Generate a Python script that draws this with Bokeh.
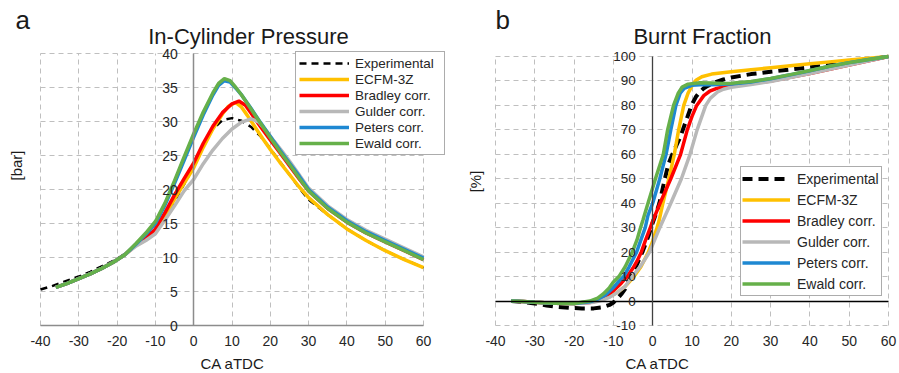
import math
from bokeh.plotting import figure
from bokeh.layouts import row
from bokeh.models import FixedTicker, Label, Legend, LegendItem, LinearAxis, Range1d
from bokeh.embed import file_html
from bokeh.resources import INLINE

FONT = "Liberation Sans"
TXT = "#262626"
GRID = "#BFBFBF"
H = 373

# ---------------- tick labels ----------------
ca_ticks = [-40, -30, -20, -10, 0, 10, 20, 30, 40, 50, 60]
ca_tick_labels = ["-40", "-30", "-20", "-10", "0", "10", "20", "30", "40", "50", "60"]
p_ticks = [0, 5, 10, 15, 20, 25, 30, 35, 40]
p_tick_labels = ["0", "5", "10", "15", "20", "25", "30", "35", "40"]
bf_ticks = [-10, 0, 10, 20, 30, 40, 50, 60, 70, 80, 90, 100]
bf_tick_labels = ["-10", "0", "10", "20", "30", "40", "50", "60", "70", "80", "90", "100"]

series_names = ["Experimental", "ECFM-3Z", "Bradley corr.", "Gulder corr.", "Peters corr.", "Ewald corr."]
series_colors = ["#000000", "#FFC000", "#FF0000", "#B8B8B8", "#1E88D2", "#66B04A"]

# ---------------- (a) in-cylinder pressure [bar] ----------------
p_exp_ca = [-40, -37, -34, -30, -27, -24, -21, -18, -15, -12.5, -10, -7.5, -5, -2.5, 0, 2.5, 5, 7.5, 10,
            12.5, 15, 17.5, 20, 22.5, 25, 27.5, 30, 35, 40, 45, 50, 55, 60]
p_exp = [5.3, 5.8, 6.4, 7.2, 7.9, 8.7, 9.5, 10.5, 11.7, 12.9, 14.3, 16.1, 18.3, 20.8, 23.4, 26.6, 28.9, 30.2, 30.5,
         30.1, 29.2, 27.8, 26.0, 24.1, 22.2, 20.3, 18.5, 16.3, 14.2, 12.5, 11.0, 9.7, 8.5]

p_sim_ca_start = [-36, -33, -30, -27, -24, -21, -18]
p_sim_start = [5.6, 6.2, 6.9, 7.6, 8.4, 9.3, 10.4]

p_ecfm_ca = p_sim_ca_start + [-15, -12.5, -10, -7.5, -5, -2.5, 0, 2.5, 5, 7.5, 9, 10.9, 12.5, 14, 16, 18, 20,
                              22.5, 25, 27.5, 30, 35, 40, 45, 50, 55, 60]
p_ecfm = p_sim_start + [11.8, 12.6, 13.8, 16.1, 18.6, 20.9, 23.2, 26.2, 28.9, 31.1, 32.2, 32.8, 32.1, 30.9, 29.2,
                        27.5, 25.9, 24.0, 22.2, 20.4, 18.8, 16.3, 14.2, 12.5, 11.0, 9.7, 8.5]

p_bradley_ca = p_sim_ca_start + [-15, -12.5, -10, -7.5, -5, -2.5, 0, 2.5, 5, 7.5, 10, 11.8, 13.5, 15, 17.5, 20,
                                 22.5, 25, 27.5, 30, 35, 40, 45, 50, 55, 60]
p_bradley = p_sim_start + [11.9, 12.8, 14.2, 16.6, 19.2, 21.6, 23.9, 26.8, 29.3, 31.3, 32.6, 33.0, 32.4, 31.2,
                           29.2, 27.3, 25.4, 23.5, 21.6, 19.8, 17.2, 15.2, 13.6, 12.3, 11.0, 9.7]

p_gulder_ca = p_sim_ca_start + [-15, -12.5, -10, -7.5, -5, -2.5, 0, 2.5, 5, 7.5, 10, 12.5, 15, 17, 19, 21, 23,
                                25, 27.5, 30, 35, 40, 45, 50, 55, 60]
p_gulder = p_sim_start + [11.7, 12.5, 13.5, 15.5, 17.6, 19.8, 21.5, 23.8, 25.8, 27.5, 28.9, 29.9, 30.4, 29.9,
                          28.6, 27.1, 25.7, 24.2, 22.2, 20.2, 17.6, 15.6, 14.0, 12.7, 11.4, 10.1]

p_peters_ca = p_sim_ca_start + [-15, -12.5, -10, -7.5, -5, -2.5, 0, 2.5, 5, 6.5, 8, 9.5, 11, 12.5, 15, 17.5, 20,
                                22.5, 25, 27.5, 30, 35, 40, 45, 50, 55, 60]
p_peters = p_sim_start + [12.0, 13.4, 15.0, 17.7, 20.9, 24.3, 27.7, 31.0, 33.9, 35.3, 36.0, 35.8, 34.9, 33.9,
                          31.9, 29.8, 27.8, 25.8, 23.9, 22.0, 20.0, 17.4, 15.4, 13.8, 12.5, 11.2, 9.9]

p_ewald_ca = p_peters_ca
p_ewald = p_sim_start + [12.1, 13.6, 15.3, 18.0, 21.3, 24.8, 28.2, 31.4, 34.2, 35.6, 36.3, 36.0, 35.0, 33.9,
                         31.8, 29.7, 27.6, 25.6, 23.7, 21.7, 19.8, 17.2, 15.2, 13.6, 12.3, 11.0, 9.7]

# ---------------- (b) burnt fraction [%] ----------------
b_exp_ca = [-36, -33, -30, -27, -24, -21, -18, -15, -13, -11, -10, -9, -8, -7, -5.6, -4, -2.5, -1, 0, 1, 1.7,
            3.1, 4, 5, 6, 7, 8, 9, 10, 11, 12, 13, 14, 15.5, 18, 20, 25, 30, 35, 40, 45, 50, 55, 60]
b_exp = [0, -0.4, -1.0, -1.8, -2.4, -2.8, -3.0, -3.0, -2.6, -1.6, -0.6, 1.0, 2.8, 5.0, 10.0, 15.0, 20.5, 27.0,
         32.0, 36.5, 40.0, 50.0, 56.0, 60.0, 63.5, 67.0, 71.5, 76.0, 80.5, 83.5, 85.5, 87.0, 88.0, 89.2, 90.6,
         91.4, 92.8, 93.8, 94.7, 95.6, 96.5, 97.5, 98.7, 100]

b_sim_ca_start = [-36, -33, -30, -25, -20]
b_sim_start = [0, -0.2, -0.5, -0.9, -1.0]

b_ecfm_ca = b_sim_ca_start + [-17, -15, -13, -11, -9, -7, -5, -3, -1.1, 0, 1, 1.6, 2.6, 4.1, 5.5, 6.6, 7.9, 9, 10,
                              11, 12.5, 15, 20, 25, 30, 35, 40, 45, 50, 55, 60]
b_ecfm = b_sim_start + [-0.5, 0, 0.6, 1.8, 3.5, 6.0, 9.5, 14.0, 20.0, 24.5, 29.5, 32.7, 40.0, 50.0, 60.0, 70.0,
                        80.0, 85.0, 88.0, 90.3, 91.7, 92.8, 93.8, 94.6, 95.4, 96.2, 97.0, 97.8, 98.6, 99.3, 100]

b_bradley_ca = b_sim_ca_start + [-16, -14, -12, -10, -8, -6.5, -5, -4, -2.9, -1.8, -0.6, 0, 2, 4.6, 7.1, 8.8,
                                 10, 11.2, 13, 14.5, 16, 18, 20, 25, 30, 35, 40, 45, 50, 55, 60]
b_bradley = b_sim_start + [-0.6, 0.3, 2.0, 4.2, 7.3, 10.0, 13.5, 16.3, 20.0, 25.0, 30.0, 32.7, 40.5, 50.0,
                           60.0, 70.0, 75.5, 80.0, 84.0, 85.8, 86.8, 87.6, 88.1, 88.9, 90.0, 91.5, 93.0, 94.8,
                           96.5, 98.2, 100]

b_gulder_ca = b_sim_ca_start + [-17, -15, -13, -11, -9, -7, -5.2, -3, -0.8, 1.8, 4.6, 7.3, 9.5, 11.3, 13.5,
                                14.7, 16.5, 18, 20, 25, 30, 35, 40, 45, 50, 55, 60]
b_gulder = b_sim_start + [-0.8, -0.5, 0.3, 1.5, 3.5, 6.0, 10.0, 14.5, 20.0, 30.0, 40.0, 50.0, 60.0, 70.0, 80.0,
                          83.0, 85.5, 86.6, 87.4, 88.5, 89.8, 91.4, 93.0, 94.8, 96.5, 98.2, 100]

b_peters_ca = b_sim_ca_start + [-16, -14, -12, -10, -8.5, -7.4, -6, -4.1, -3, -1.9, -1.2, 0, 1.8, 3.4, 4.6,
                                5.9, 7, 8, 10, 12, 15, 20, 25, 30, 35, 40, 45, 50, 55, 60]
b_peters = b_sim_start + [-0.3, 0.8, 2.5, 5.5, 8.3, 10.0, 14.0, 20.0, 25.0, 30.0, 35.0, 40.0, 50.0, 60.0, 70.0,
                          80.0, 85.0, 87.0, 88.2, 88.4, 88.4, 88.8, 89.6, 90.9, 92.5, 94.2, 96.0, 97.5, 98.8, 100]

b_ewald_ca = b_sim_ca_start + [-16, -14, -12.5, -11, -10, -8.6, -7, -5.2, -4, -3.1, -2.5, -1.2, 0.7, 2.7, 3.8,
                               5.3, 6.5, 7.5, 9, 12, 15, 18, 20, 25, 30, 35, 40, 45, 50, 55, 60]
b_ewald = b_sim_start + [0, 1.2, 3.0, 5.5, 7.8, 10.0, 14.0, 20.0, 25.0, 30.0, 33.0, 40.0, 50.0, 60.0, 70.0,
                         80.0, 85.0, 87.5, 88.7, 89.3, 89.2, 89.0, 89.1, 89.8, 91.0, 92.6, 94.3, 96.0, 97.5,
                         98.8, 100]


def full_frame_figure(width, x_lo, x_hi, px_left, px_right, y_lo, y_hi, px_top, px_bottom):
    """Frame covers the whole figure; data box [x_lo,x_hi]x[y_lo,y_hi] is placed at the given pixels."""
    sx = (px_right - px_left) / (x_hi - x_lo)
    sy = (px_bottom - px_top) / (y_hi - y_lo)
    xr = Range1d(x_lo - px_left / sx, x_hi + (width - px_right) / sx)
    yr = Range1d(y_lo - (H - px_bottom) / sy, y_hi + px_top / sy)
    p = figure(width=width, height=H, x_range=xr, y_range=yr,
               output_backend="svg", toolbar_location=None,
               min_border_left=0, min_border_right=0, min_border_top=0, min_border_bottom=0)
    p.background_fill_color = "white"
    p.border_fill_color = "white"
    p.outline_line_color = None
    for g in (p.xgrid, p.ygrid):
        g.grid_line_color = GRID
        g.grid_line_dash = "5 4"
        g.grid_line_width = 1
    p.xgrid.bounds = (x_lo, x_hi)
    p.ygrid.bounds = (y_lo, y_hi)
    try:
        p.xgrid.cross_bounds = (y_lo, y_hi)
        p.ygrid.cross_bounds = (x_lo, x_hi)
    except AttributeError:
        pass
    p.xaxis.ticker = FixedTicker(ticks=ca_ticks)
    p.xaxis.major_label_overrides = dict(zip(ca_ticks, ca_tick_labels))
    p.xaxis.bounds = (x_lo, x_hi)
    p.yaxis.bounds = (y_lo, y_hi)
    for ax in (p.xaxis, p.yaxis):
        ax.major_tick_line_color = None
        ax.minor_tick_line_color = None
        ax.major_label_text_font = FONT
        ax.major_label_text_color = TXT
    p.xaxis.major_label_text_font_size = "14px"
    p.xaxis.major_label_standoff = 4
    p.yaxis.fixed_location = 0
    return p


def add_text(p, x, y, dx, dy, text, size, align="left", angle=0.0):
    p.add_layout(Label(x=x, y=y, x_offset=dx, y_offset=dy, text=text, text_font=FONT,
                       text_font_size=size, text_color="#1a1a1a", text_align=align,
                       text_baseline="middle", angle=angle))


def add_legend(p, renderers, loc, padding, lh, gw, standoff, lw, fsize):
    items = [LegendItem(label=n, renderers=[r]) for n, r in zip(series_names, renderers)]
    leg = Legend(items=items, location=loc, padding=padding, spacing=0, margin=0,
                 label_height=lh, glyph_height=lh, glyph_width=gw, label_standoff=standoff,
                 label_width=lw, border_line_color="#595959", border_line_width=1.5,
                 background_fill_color="white", background_fill_alpha=1.0,
                 label_text_font=FONT, label_text_font_size=fsize, label_text_color=TXT)
    p.add_layout(leg)


# ================= panel a =================
p1 = full_frame_figure(450, ca_ticks[0], ca_ticks[-1], 40, 423, p_ticks[0], p_ticks[-1], 53, 325)
p1.yaxis.ticker = FixedTicker(ticks=p_ticks)
p1.yaxis.major_label_overrides = dict(zip(p_ticks, p_tick_labels))
p1.yaxis.major_label_text_font_size = "14px"
p1.yaxis.major_label_standoff = 10
p1.yaxis.axis_line_color = "#8C8C8C"
p1.yaxis.axis_line_width = 1.5
p1.xaxis.fixed_location = 0
p1.xaxis.axis_line_color = "#8C8C8C"
p1.xaxis.axis_line_width = 1.5

ra = []
ra.append(p1.line(p_exp_ca, p_exp, line_color=series_colors[0], line_width=2.5, line_dash="7 5"))
ra.append(p1.line(p_ecfm_ca, p_ecfm, line_color=series_colors[1], line_width=3.5))
ra.append(p1.line(p_bradley_ca, p_bradley, line_color=series_colors[2], line_width=3.5))
ra.append(p1.line(p_gulder_ca, p_gulder, line_color=series_colors[3], line_width=3.5))
ra.append(p1.line(p_peters_ca, p_peters, line_color=series_colors[4], line_width=3.5))
ra.append(p1.line(p_ewald_ca, p_ewald, line_color=series_colors[5], line_width=3.5))
add_legend(p1, ra, (295, H - 155), 3, 16, 50, 6, 86, "13.5px")

add_text(p1, -40, 40, -25, 34, "a", "26px")
add_text(p1, -40, 40, 208, 17, "In-Cylinder Pressure", "22px", align="center")
add_text(p1, -40, 40, -24, -112, "[bar]", "15px", align="center", angle=math.pi / 2)
add_text(p1, -40, 0, 192, -38, "CA aTDC", "15px", align="center")

# ================= panel b =================
p2 = full_frame_figure(449, ca_ticks[0], ca_ticks[-1], 45, 438, bf_ticks[0], bf_ticks[-1], 56, 325)
p2.yaxis.ticker = FixedTicker(ticks=bf_ticks)
p2.yaxis.major_label_overrides = dict(zip(bf_ticks, bf_tick_labels))
p2.yaxis.major_label_text_font_size = "13.5px"
p2.yaxis.major_label_standoff = 11
p2.yaxis.axis_line_color = "#404040"
p2.yaxis.axis_line_width = 1.3
p2.xaxis.fixed_location = bf_ticks[0]
p2.xaxis.axis_line_color = None
zero_axis = LinearAxis(ticker=FixedTicker(ticks=[]), fixed_location=0, bounds=(ca_ticks[0], ca_ticks[-1]),
                       axis_line_color="black", axis_line_width=1.3,
                       major_tick_line_color=None, minor_tick_line_color=None)
p2.add_layout(zero_axis, "below")

rb = []
rb.append(p2.line(b_exp_ca, b_exp, line_color=series_colors[0], line_width=4, line_dash="10 6"))
rb.append(p2.line(b_ecfm_ca, b_ecfm, line_color=series_colors[1], line_width=3.5))
rb.append(p2.line(b_bradley_ca, b_bradley, line_color=series_colors[2], line_width=3.5))
rb.append(p2.line(b_gulder_ca, b_gulder, line_color=series_colors[3], line_width=3.5))
rb.append(p2.line(b_peters_ca, b_peters, line_color=series_colors[4], line_width=3.5))
rb.append(p2.line(b_ewald_ca, b_ewald, line_color=series_colors[5], line_width=3.5))
add_legend(p2, rb, (740 - 450, H - 296), 1, 21, 48, 7, 83, "14px")

add_text(p2, -40, 100, 0, 37, "b", "26px")
add_text(p2, -40, 100, 207, 20, "Burnt Fraction", "22px", align="center")
add_text(p2, -40, 100, -20, -125, "[%]", "15px", align="center", angle=math.pi / 2)
add_text(p2, -40, -10, 162, -38, "CA aTDC", "15px", align="center")

layout = row(p1, p2)
open("out.html", "w").write(file_html(layout, INLINE))
